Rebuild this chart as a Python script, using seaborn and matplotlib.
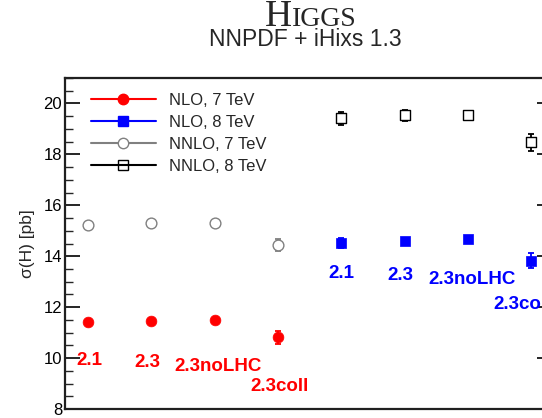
import matplotlib
matplotlib.use("Agg")
import matplotlib.pyplot as plt
from matplotlib.lines import Line2D
import numpy as np
import pandas as pd
import seaborn as sns

# PDF sets shown along the horizontal axis
pdf_sets = ["2.1", "2.3", "2.3noLHC", "2.3coll"]

# Higgs cross sections [pb] and their uncertainties
nlo_7 = [11.41, 11.46, 11.49, 10.81]
nlo_7_err = [0.06, 0.06, 0.06, 0.25]
nlo_8 = [14.51, 14.60, 14.66, 13.82]
nlo_8_err = [0.20, 0.08, 0.08, 0.30]
nnlo_7 = [15.23, 15.32, 15.32, 14.44]
nnlo_7_err = [0.08, 0.08, 0.08, 0.23]
nnlo_8 = [19.41, 19.54, 19.53, 18.47]
nnlo_8_err = [0.27, 0.22, 0.15, 0.34]

series_names = ["NLO, 7 TeV", "NLO, 8 TeV", "NNLO, 7 TeV", "NNLO, 8 TeV"]

# slot of each PDF set: 7 TeV results on the left, 8 TeV on the right
slots_7 = [1, 2, 3, 4]
slots_8 = [5, 6, 7, 8]

# where the PDF-set names are written (x slot, y in pb)
red_label_x = [1.02, 1.94, 3.05, 4.03]
red_label_y = [9.89, 9.82, 9.67, 8.87]
blue_label_x = [5.0, 5.94, 7.06, 7.86]
blue_label_y = [13.33, 13.24, 13.07, 12.09]

frames = []
for name, vals, errs, slots in [
    (series_names[0], nlo_7, nlo_7_err, slots_7),
    (series_names[1], nlo_8, nlo_8_err, slots_8),
    (series_names[2], nnlo_7, nnlo_7_err, slots_7),
    (series_names[3], nnlo_8, nnlo_8_err, slots_8),
]:
    frames.append(pd.DataFrame({"series": name, "pdf": pdf_sets,
                                "slot": slots, "xs": vals, "err": errs}))
df = pd.concat(frames, ignore_index=True)

sns.set_theme(style="ticks")
plt.rcParams["font.family"] = ["Liberation Sans", "DejaVu Sans"]

W, H = 542, 418
fig = plt.figure(figsize=(W / 100, H / 100), dpi=100)
ax = fig.add_axes([65 / W, 9 / H, 487 / W, 331 / H])

styles = {
    "NLO, 7 TeV": dict(color="#ff0000", marker="o", filled=True),
    "NLO, 8 TeV": dict(color="#0000ff", marker="s", filled=True),
    "NNLO, 7 TeV": dict(color="#808080", marker="o", filled=False),
    "NNLO, 8 TeV": dict(color="#000000", marker="s", filled=False),
}

for name in series_names:
    st = styles[name]
    sub = df[df["series"] == name]
    ax.errorbar(sub["slot"], sub["xs"], yerr=sub["err"], fmt="none",
                ecolor=st["color"], elinewidth=1.3, capsize=2, capthick=1.3,
                zorder=2)
    if st["filled"]:
        sns.scatterplot(data=sub, x="slot", y="xs", marker=st["marker"],
                        s=60, color=st["color"], edgecolor=st["color"],
                        linewidth=0.5, ax=ax, zorder=3)
    else:
        sns.scatterplot(data=sub, x="slot", y="xs", marker=st["marker"],
                        s=60, facecolor="white", edgecolor=st["color"],
                        linewidth=1.0, ax=ax, zorder=3)

for txt, x, y in zip(pdf_sets, red_label_x, red_label_y):
    ax.text(x, y, txt, color="#ff0000", fontsize=13.5, fontweight="bold",
            ha="center", va="center", zorder=5)
for txt, x, y in zip(pdf_sets, blue_label_x, blue_label_y):
    ax.text(x, y, txt, color="#0000ff", fontsize=13.5, fontweight="bold",
            ha="center", va="center", zorder=5, clip_on=False)

ax.set_xlim(0.637, 8.33)
ax.set_ylim(8, 21)
ax.set_xticks([])
ax.set_yticks([8, 10, 12, 14, 16, 18, 20])
ax.set_yticks(np.arange(8, 21.01, 0.5), minor=True)
ax.tick_params(axis="y", which="major", direction="in", length=11, width=1.2,
               left=True, right=True, labelsize=12, pad=2, colors="black")
ax.tick_params(axis="y", which="minor", direction="in", length=5.5, width=1.0,
               left=True, right=True)
for sp in ax.spines.values():
    sp.set_linewidth(1.6)
    sp.set_color("#202020")
    sp.set_visible(True)

ax.set_xlabel("")
ax.set_ylabel("σ(H) [pb]", fontsize=12.5)
ax.yaxis.set_label_coords(-0.062, 0.5)

handles = []
for name in series_names:
    st = styles[name]
    if st["filled"]:
        h = Line2D([], [], color=st["color"], lw=1.5, marker=st["marker"],
                   markersize=7.5, markerfacecolor=st["color"],
                   markeredgecolor=st["color"])
    else:
        h = Line2D([], [], color=st["color"], lw=1.5, marker=st["marker"],
                   markersize=7.5,
                   markerfacecolor="white" if st["marker"] == "o" else "none",
                   markeredgecolor=st["color"], markeredgewidth=1.0)
    handles.append(h)
ax.legend(handles, series_names, loc="upper left",
          bbox_to_anchor=(0.053, 0.955), frameon=False, fontsize=12,
          handlelength=3.9, handletextpad=0.8, labelspacing=0.42,
          borderpad=0, borderaxespad=0)

# two-part small-caps title
renderer = fig.canvas.get_renderer()
yb = 1 - 26 / H
t_big = fig.text(0, yb, "H", fontsize=27, family="Liberation Serif",
                 ha="left", va="baseline")
t_small = fig.text(0, yb, "IGGS", fontsize=20, family="Liberation Serif",
                   ha="left", va="baseline")
w1 = t_big.get_window_extent(renderer).width
w2 = t_small.get_window_extent(renderer).width
x0 = 311 - (w1 + w2) / 2
t_big.set_x(x0 / W)
t_small.set_x((x0 + w1) / W)

fig.text(305 / W, 1 - 46 / H, "NNPDF + iHixs 1.3", fontsize=16.5,
         ha="center", va="baseline")

fig.savefig("out.png", dpi=100)
